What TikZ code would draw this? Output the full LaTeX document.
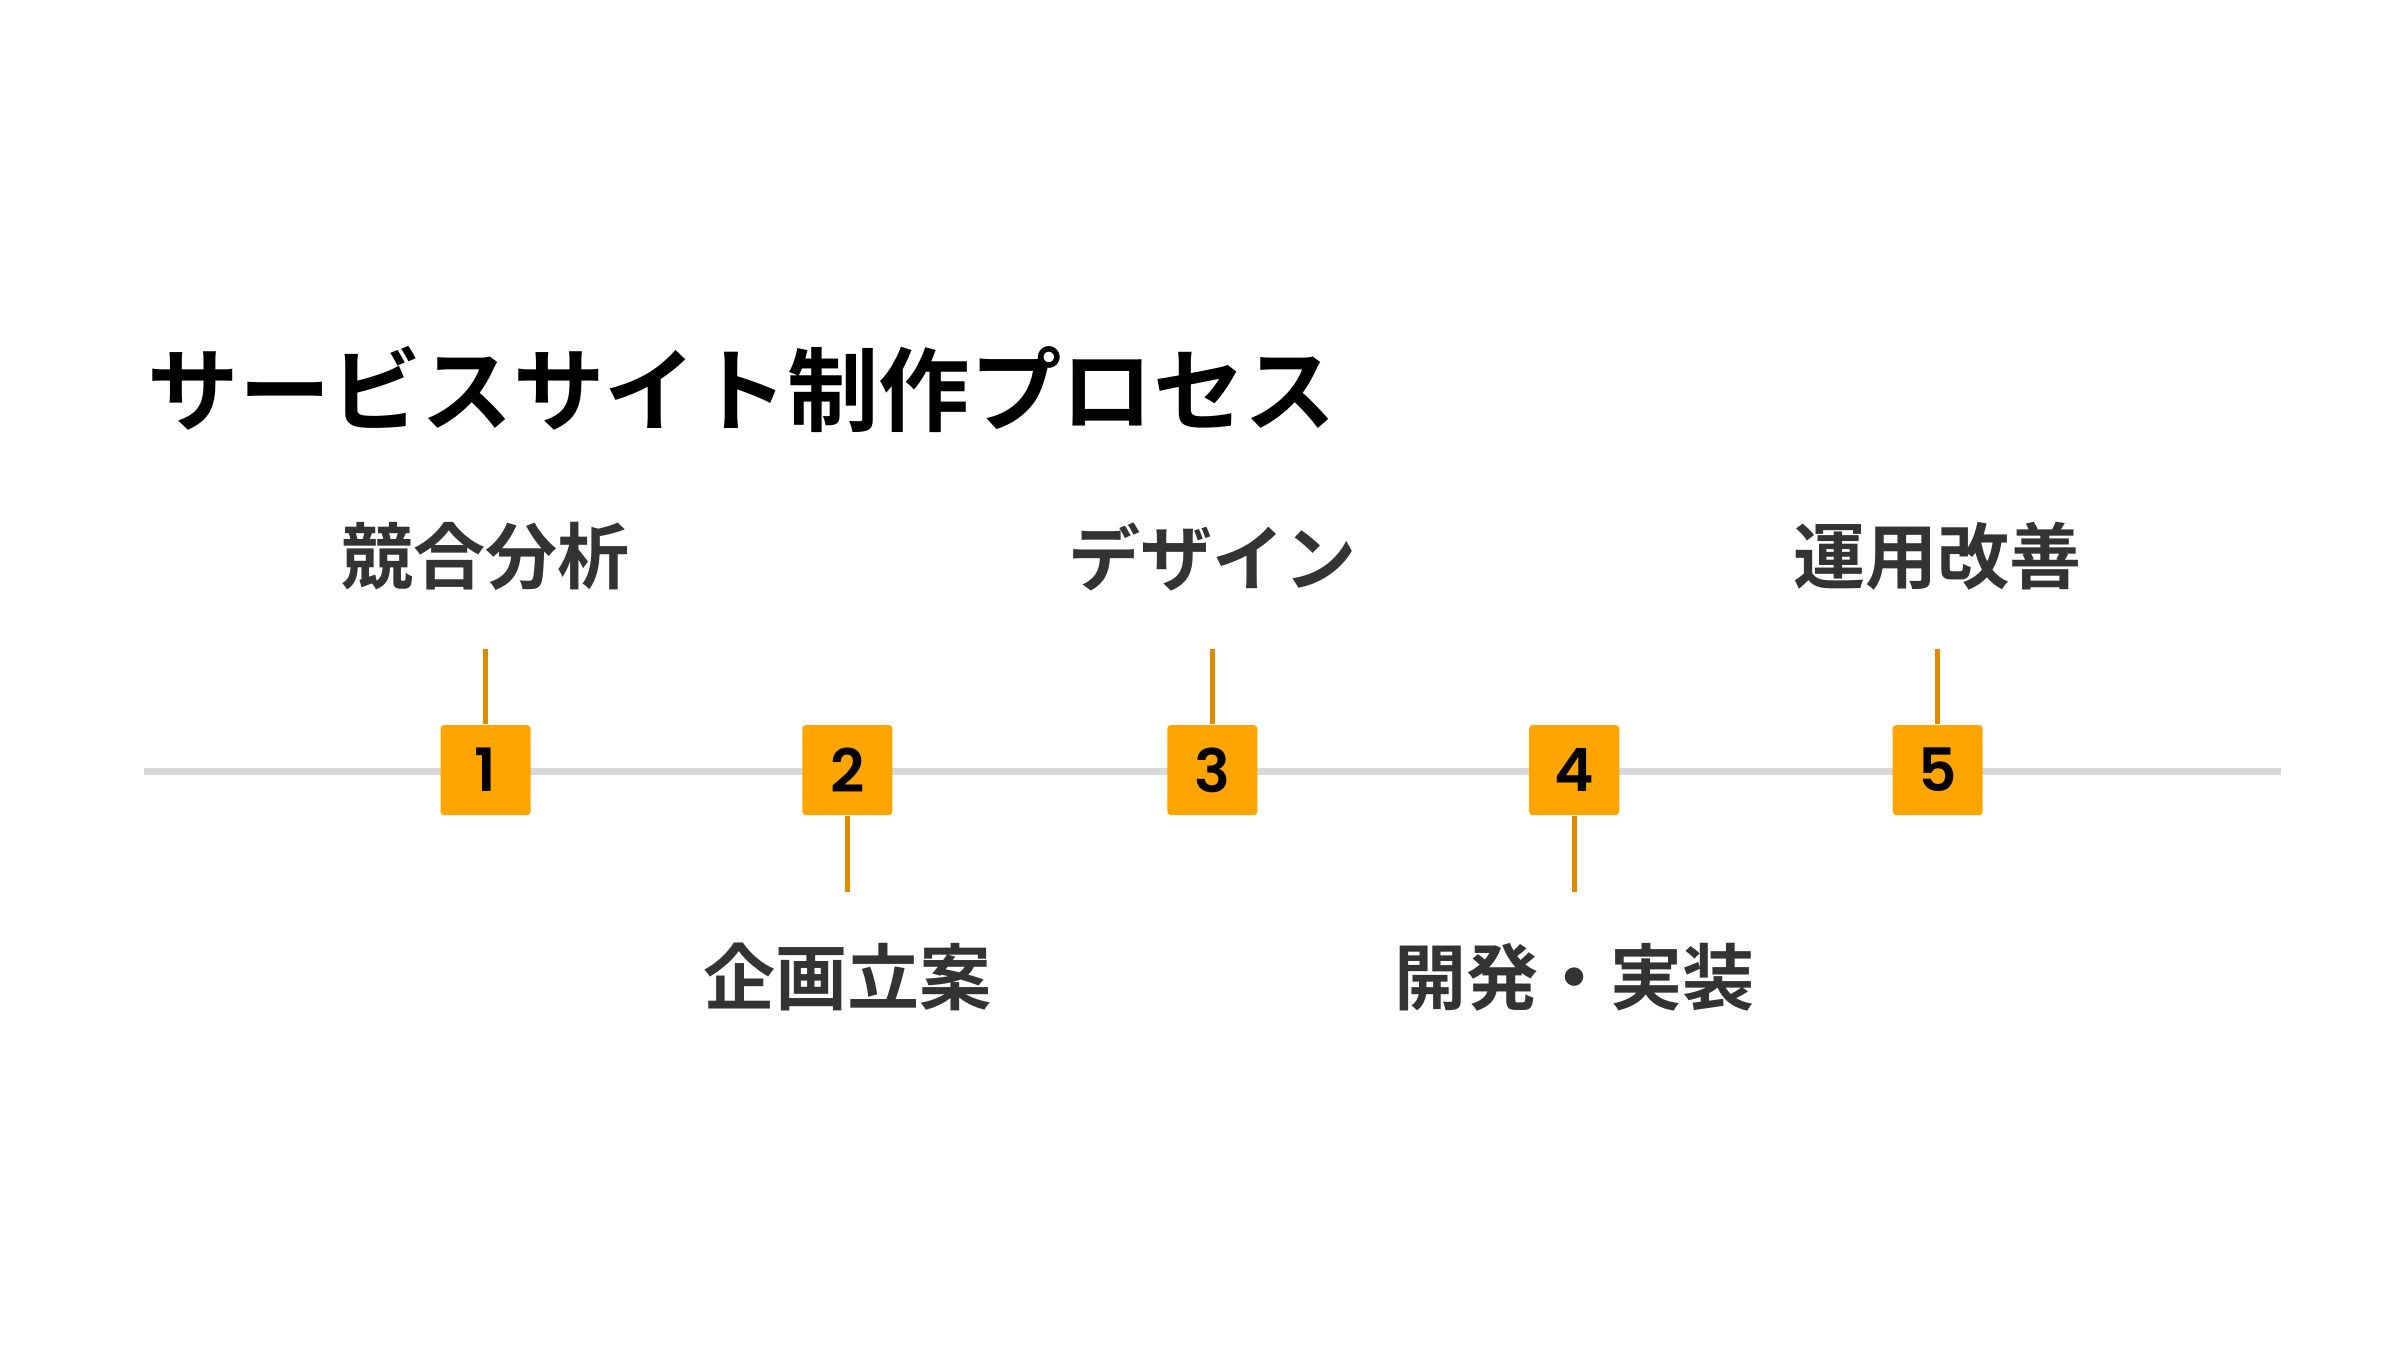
\documentclass[tikz,border=0pt]{standalone}
\usepackage{fontspec}
\newfontfamily\jpfont{Noto Sans CJK JP}[BoldFont={Noto Sans CJK JP Bold}]
\newfontfamily\numfont{Poppins SemiBold}
\usetikzlibrary{positioning,calc}
\definecolor{stepor}{HTML}{FFA500}
\definecolor{stemor}{HTML}{E08A00}
\definecolor{railgray}{HTML}{D9D9D9}
\definecolor{txtgray}{HTML}{333333}
\tikzset{
  stepbox/.style={fill=stepor,minimum size=0.9cm,inner sep=0pt,rounded corners=1pt,font=\numfont\fontsize{17}{17}\selectfont},
  steplabel/.style={text=txtgray,font=\jpfont\bfseries\fontsize{20.5}{20.5}\selectfont,inner sep=0pt},
  stem/.style={stemor,line width=1.3pt}
}
\begin{document}
\begin{tikzpicture}[x=0.01546cm,y=-0.01546cm]
\useasboundingbox (0,0) rectangle (1552,873);

\node[anchor=west,inner sep=0pt,font=\jpfont\bfseries\fontsize{26}{26}\selectfont] (title) at (95,252) {サービスサイト制作プロセス};

\coordinate (r1) at (93,499);
\coordinate (r2) at (1475,499);
\draw[railgray,line width=1.8pt] (r1)--(r2);

\foreach \n/\x in {1/314,2/548,3/784,4/1018,5/1253}{\node[stepbox] (s\n) at (\x,498) {\n};}

% upper steps
\foreach \n/\t in {1/競合分析,3/デザイン,5/運用改善}{
  \coordinate (c\n) at ($(s\n.north)+(0,-49)$);
  \draw[stem] (s\n.north)--(c\n);
  \node[steplabel] (l\n) at ($(s\n)+(0,-138)$) {\t};
}
% lower steps
\foreach \n/\t in {2/企画立案,4/開発・実装}{
  \coordinate (c\n) at ($(s\n.south)+(0,49)$);
  \draw[stem] (s\n.south)--(c\n);
  \node[steplabel] (l\n) at ($(s\n)+(0,134)$) {\t};
}
\end{tikzpicture}
\end{document}
